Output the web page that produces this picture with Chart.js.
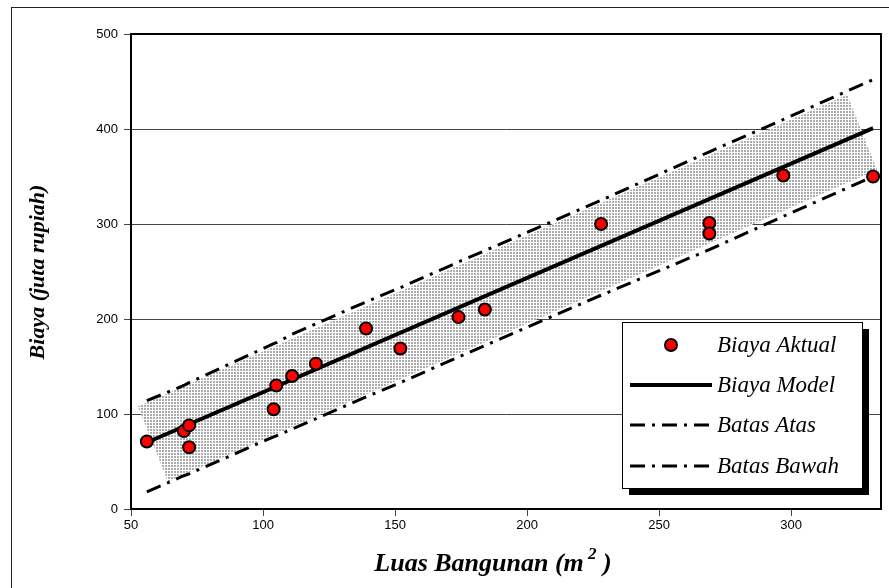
<!DOCTYPE html>
<html>
<head>
<meta charset="utf-8">
<script src="https://cdn.jsdelivr.net/npm/chart.js@4.4.1/dist/chart.umd.min.js"></script>
<style>
  html, body { margin: 0; padding: 0; background: #fff; }
  #wrap { width: 889px; height: 588px; }
</style>
</head>
<body>
<div id="wrap"><canvas id="chart" width="889" height="588"></canvas></div>
<script>
// ── Data ───────────────────────────────────────────────────────
var LUAS = [56, 70, 72, 72, 104, 105, 111, 120, 139, 152, 174, 184, 228, 269, 269, 297, 331];
var BIAYA = [71, 82, 88, 65, 105, 130, 140, 153, 190, 169, 202, 210, 300, 301, 290, 351, 350];
var MODEL_X = [56, 331];
var MODEL_Y = [70, 401];
var BATAS_X = [56, 70, 72, 104, 105, 111, 120, 139, 152, 174, 184, 228, 269, 297, 331];
var BATAS_ATAS = [114, 130, 133, 174, 175, 184, 195, 218, 233, 260, 272, 325, 376, 410, 452];
var BATAS_BAWAH = [18, 35, 37, 76, 77, 84, 95, 118, 133, 160, 172, 225, 273, 308, 350];
var BAND_X = [52.6, 64, 332.5, 321.2];
var BAND_Y = [108, 29, 357, 436];
var X_TICKS = [50, 100, 150, 200, 250, 300];
var Y_TICKS = [0, 100, 200, 300, 400, 500];

var DASHDOT = [15, 7, 3, 7];
var SERIF = '"Liberation Serif", "Times New Roman", serif';
var SANS = '"Liberation Sans", Arial, sans-serif';

var zip = function (xs, ys) { return xs.map(function (x, i) { return {x: x, y: ys[i]}; }); };

// dotted grey fill of the confidence band
var makeDots = function () {
  var c = document.createElement('canvas');
  c.width = 3; c.height = 3;
  var g = c.getContext('2d');
  g.fillStyle = '#ffffff'; g.fillRect(0, 0, 3, 3);
  g.fillStyle = '#ababab'; g.fillRect(0, 0, 2, 2);
  return g.createPattern(c, 'repeat');
};

var decor = {
  id: 'decor',
  beforeDraw: function (chart) {
    var ctx = chart.ctx;
    ctx.save();
    ctx.fillStyle = '#fff';
    ctx.fillRect(0, 0, chart.width, chart.height);
    ctx.restore();
  },
  afterDraw: function (chart) {
    var ctx = chart.ctx, a = chart.chartArea;
    ctx.save();
    // top + right edge of plot box
    ctx.strokeStyle = '#000'; ctx.lineWidth = 2;
    ctx.beginPath();
    ctx.moveTo(a.left, a.top); ctx.lineTo(a.right, a.top); ctx.lineTo(a.right, a.bottom);
    ctx.stroke();
    // outer frame
    ctx.lineWidth = 1; ctx.strokeStyle = '#222';
    ctx.strokeRect(11.5, 7.5, 900, 600);

    // axis titles
    ctx.fillStyle = '#000';
    ctx.textAlign = 'center'; ctx.textBaseline = 'middle';
    ctx.save();
    ctx.translate(38, 272); ctx.rotate(-Math.PI / 2);
    ctx.font = 'italic bold 22px ' + SERIF;
    ctx.fillText('Biaya (juta rupiah)', 0, 0);
    ctx.restore();

    ctx.font = 'italic bold 26px ' + SERIF;
    var t1 = 'Luas Bangunan (m', t3 = ' )';
    ctx.textAlign = 'left';
    var w1 = ctx.measureText(t1).width, w3 = ctx.measureText(t3).width;
    ctx.font = 'italic bold 17px ' + SERIF;
    var w2 = ctx.measureText(' 2').width;
    var x0 = 493 - (w1 + w2 + w3) / 2, yb = 571;
    ctx.textBaseline = 'alphabetic';
    ctx.font = 'italic bold 26px ' + SERIF;
    ctx.fillText(t1, x0, yb);
    ctx.font = 'italic bold 17px ' + SERIF;
    ctx.fillText(' 2', x0 + w1, yb - 12);
    ctx.font = 'italic bold 26px ' + SERIF;
    ctx.fillText(t3, x0 + w1 + w2, yb);

    // legend box with shadow
    var L = 622, T = 322, W = 240, H = 166;
    ctx.fillStyle = '#000';
    ctx.fillRect(L + 7, T + 7, W, H);
    ctx.fillStyle = '#fff';
    ctx.fillRect(L, T, W, H);
    ctx.strokeStyle = '#000'; ctx.lineWidth = 1;
    ctx.strokeRect(L + 0.5, T + 0.5, W, H);

    var rows = [345, 385, 425, 466];
    var names = ['Biaya Aktual', 'Biaya Model', 'Batas Atas', 'Batas Bawah'];
    // marker
    ctx.beginPath();
    ctx.arc(671, rows[0], 6, 0, Math.PI * 2);
    ctx.fillStyle = '#ff0000'; ctx.fill();
    ctx.lineWidth = 2; ctx.strokeStyle = '#000'; ctx.stroke();
    // solid
    ctx.lineWidth = 4;
    ctx.beginPath(); ctx.moveTo(630, rows[1]); ctx.lineTo(712, rows[1]); ctx.stroke();
    // dash-dot
    ctx.lineWidth = 3; ctx.setLineDash(DASHDOT);
    [rows[2], rows[3]].forEach(function (y) {
      ctx.beginPath(); ctx.moveTo(630, y); ctx.lineTo(712, y); ctx.stroke();
    });
    ctx.setLineDash([]);
    ctx.fillStyle = '#000';
    ctx.font = 'italic 23px ' + SERIF;
    ctx.textAlign = 'left'; ctx.textBaseline = 'middle';
    names.forEach(function (n, i) { ctx.fillText(n, 717, rows[i] + 1); });
    ctx.restore();
  }
};

new Chart(document.getElementById('chart').getContext('2d'), {
  type: 'line',
  data: {
    datasets: [
      {
        label: 'Biaya Aktual', data: zip(LUAS, BIAYA), showLine: false,
        pointRadius: 6, pointHoverRadius: 6, pointBackgroundColor: '#ff0000',
        pointBorderColor: '#000', pointBorderWidth: 2
      },
      {
        label: 'Biaya Model', data: zip(MODEL_X, MODEL_Y),
        borderColor: '#000', borderWidth: 4, pointRadius: 0, tension: 0, fill: false
      },
      {
        label: 'Batas Atas', data: zip(BATAS_X, BATAS_ATAS),
        borderColor: '#000', borderWidth: 3, borderDash: DASHDOT, pointRadius: 0, tension: 0, fill: false
      },
      {
        label: 'Batas Bawah', data: zip(BATAS_X, BATAS_BAWAH),
        borderColor: '#000', borderWidth: 3, borderDash: DASHDOT, pointRadius: 0, tension: 0, fill: false
      },
      {
        label: 'band', data: zip(BAND_X, BAND_Y),
        borderWidth: 0, borderColor: 'rgba(0,0,0,0)', backgroundColor: makeDots(),
        pointRadius: 0, tension: 0, fill: 'shape'
      }
    ]
  },
  options: {
    responsive: false, animation: false, devicePixelRatio: 1,
    layout: {padding: {top: 34, right: 7, left: 0, bottom: 0}},
    plugins: {legend: {display: false}, tooltip: {enabled: false}},
    scales: {
      x: {
        type: 'linear', min: 50, max: 334,
        afterBuildTicks: function (s) { s.ticks = X_TICKS.map(function (v) { return {value: v}; }); },
        afterFit: function (s) { s.height = 79; },
        grid: {drawOnChartArea: false, drawTicks: true, tickLength: 7, color: '#444'},
        border: {display: true, color: '#000', width: 2},
        ticks: {color: '#000', font: {family: SANS, size: 13}, padding: 2, maxRotation: 0, autoSkip: false}
      },
      y: {
        type: 'linear', min: 0, max: 500,
        afterBuildTicks: function (s) { s.ticks = Y_TICKS.map(function (v) { return {value: v}; }); },
        afterFit: function (s) { s.width = 131; },
        grid: {drawTicks: true, tickLength: 7, color: '#444'},
        border: {display: true, color: '#000', width: 2},
        ticks: {color: '#000', font: {family: SANS, size: 13}, padding: 6}
      }
    }
  },
  plugins: [decor]
});
</script>
</body>
</html>
